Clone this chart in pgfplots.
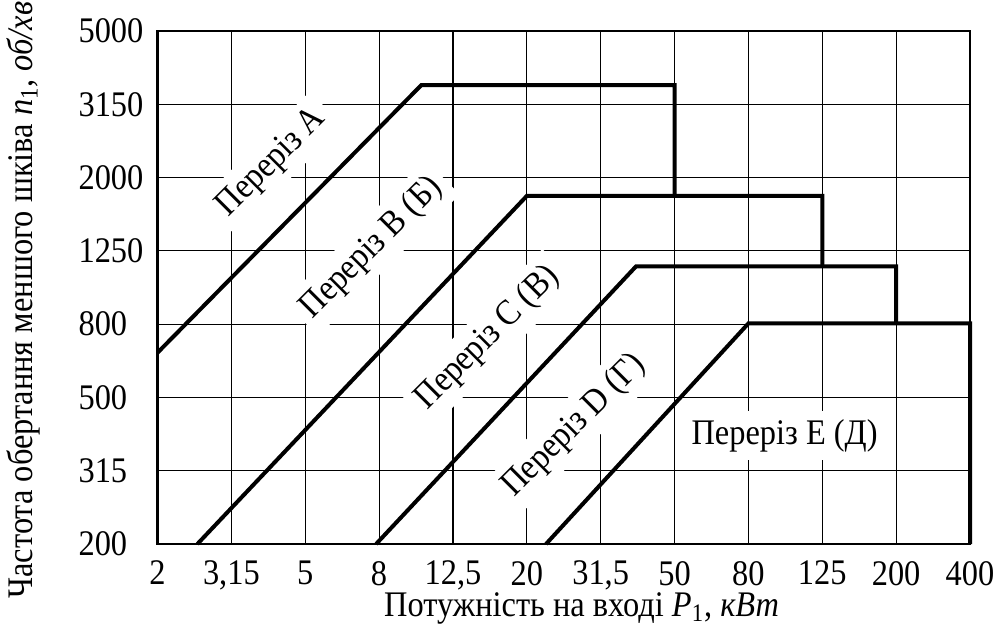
\documentclass[border=0pt]{standalone}
\usepackage{pgfplots}
\pgfplotsset{compat=1.18}
\usepackage{fontspec}
\setmainfont{Liberation Serif}[FakeStretch=0.9]
\newcommand{\fs}{\fontsize{18}{21}\selectfont}
\begin{document}
\begin{tikzpicture}[x=1pt,y=1pt]
\useasboundingbox (0,0) rectangle (501,314.5);
\begin{axis}[
 at={(78.75pt,42.5pt)}, anchor=south west,
 scale only axis, width=406.25pt, height=256.5pt,
 xmin=0,xmax=11,ymin=0,ymax=7,
 xtick={0,...,11}, ytick={0,...,7},
 xticklabels={2,{3,15},5,8,{12,5},20,{31,5},50,80,125,200,400},
 yticklabels={200,315,500,800,1250,2000,3150,5000},
 grid=major, major grid style={black, line width=0.55pt},
 major tick length=0pt,
 axis line style={line width=1.1pt},
 tick label style={font=\fs},
 xticklabel style={yshift=-5pt},
 yticklabel style={anchor=west, xshift=-43pt},
 xlabel={Потужність на вході \textit{P}\textsubscript{1}, \textit{кВт}},
 ylabel={Частота обертання меншого шківа \textit{n}\textsubscript{1}, \textit{об/хв}},
 label style={font=\fs},
 xlabel style={at={(axis description cs:0.522,-0.126)}, anchor=center},
 ylabel style={at={(axis description cs:-0.165,0.4756)}, anchor=center},
 clip=false,
]
\addplot[black, line width=2pt, line join=miter] coordinates {(0,2.61) (3.57,6.26) (7,6.26) (7,4.75)};
\addplot[black, line width=2pt, line join=miter] coordinates {(0.54,0) (5.0,4.75) (9,4.75) (9,3.79)};
\addplot[black, line width=2pt, line join=miter] coordinates {(2.96,0) (6.48,3.79) (10,3.79) (10,3.01)};
\addplot[black, line width=2pt, line join=miter] coordinates {(5.26,0) (8.0,3.01) (11,3.01) (11,0)};
\node[rotate=45, fill=white, inner sep=4pt, font=\fs] at (axis cs:1.55,5.2) {Переріз A};
\node[rotate=45, fill=white, inner sep=4pt, font=\fs] at (axis cs:2.9,4.04) {Переріз B (Б)};
\node[rotate=45, fill=white, inner sep=4pt, font=\fs] at (axis cs:4.47,2.81) {Переріз C (В)};
\node[rotate=45, fill=white, inner sep=4pt, font=\fs] at (axis cs:5.64,1.61) {Переріз D (Г)};
\node[fill=white, inner sep=4pt, font=\fs] at (axis cs:8.49,1.48) {Переріз E (Д)};
\end{axis}
\end{tikzpicture}
\end{document}
